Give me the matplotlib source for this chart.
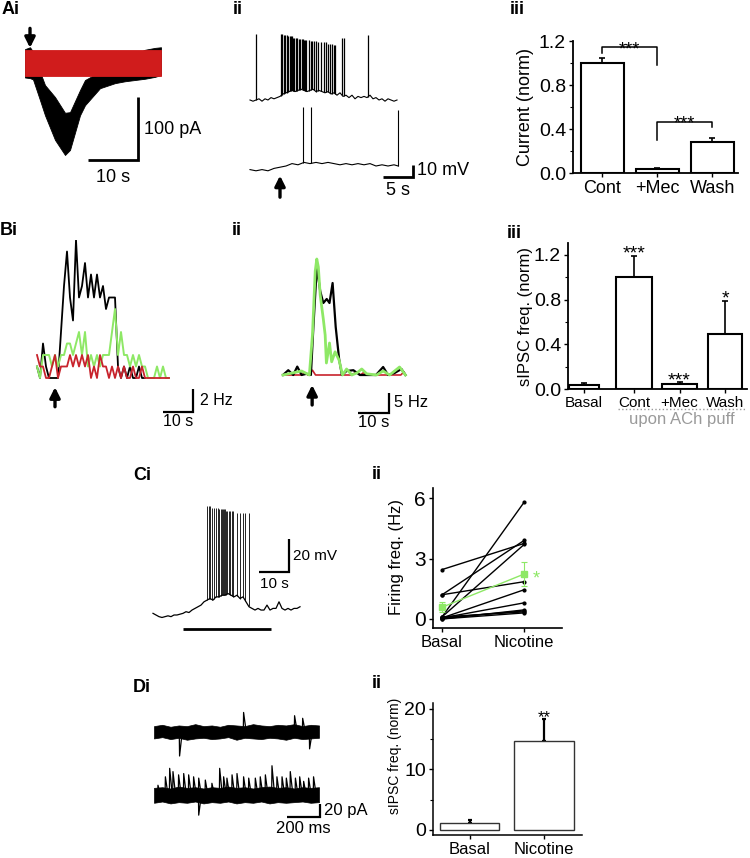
from __future__ import annotations

import matplotlib

matplotlib.use("Agg")

import matplotlib.pyplot as plt
import numpy as np
from matplotlib.ticker import FixedLocator
from matplotlib.transforms import blended_transform_factory

plt.rcParams["font.family"] = ["Liberation Sans", "DejaVu Sans"]

FIG_W, FIG_H = 750, 858

COLORS = {
    "black": "#000000",
    "red": "#d01c1c",
    "trace_red": "#c8232c",
    "green": "#8ee866",
    "gray": "#9a9a9a",
    "bar_edge": "#333333",
}

# ---- Ai: ACh-evoked current (pA) vs time (s): control band and +Mec band
AI_TIME = [0, 1, 1.6, 3, 4, 6, 8, 9, 11, 12, 15, 18, 20, 22, 24, 26, 27.2]
AI_CONTROL_UPPER = [22, 25, 18, -14, -35, -54, -79, -78, -43, -27, -14, -3, 8, 14, 21, 24, 25]
AI_CONTROL_LOWER = [-23, -24, -26, -59, -83, -122, -146, -138, -83, -67, -40, -32, -29, -27, -25, -22, -19]
AI_MEC_TIME = [0, 27.2]
AI_MEC_UPPER = [21, 21]
AI_MEC_LOWER = [-21, -21]

# ---- Aii: membrane potential (mV) vs time (s), two recordings
AII_TIME = [0, 0.5, 1, 1.5, 2, 2.5, 3, 3.5, 4, 4.5,
            5, 5.5, 6, 6.5, 7, 7.5, 8, 8.5, 9, 9.5,
            10, 10.5, 11, 11.5, 12, 12.5, 13, 13.5, 14, 14.5,
            15, 15.5, 16, 16.5, 17, 17.5, 18, 18.5, 19, 19.5,
            20, 20.5, 21, 21.5, 22, 22.5, 23, 23.5, 24, 24.5]
AII_TOP_V = [0, -1, 0, 1, -1, 1, 0, 2, 1, 2,
             3, 5, 6, 7, 8, 7, 8, 9, 8, 7,
             8, 9, 7, 8, 7, 6, 7, 5, 6, 4,
             6, 3, 4, 2, 4, 1, 3, 2, 3, 2,
             4, 1, 2, 0, 1, -1, 1, 0, -1, 0]
AII_TOP_SPIKES = [1.0, 5.1, 5.3, 5.6, 5.9, 6.1, 6.3, 6.6, 6.8, 7.0, 7.2, 7.4, 7.7,
                  7.9, 8.1, 8.3, 8.6, 8.8, 9.0, 9.2, 9.4, 9.8, 10.1, 10.4, 10.7,
                  11.0, 11.4, 11.8, 12.3, 12.7, 13.0, 13.3, 13.7, 14.0, 14.2,
                  15.3, 15.6, 19.7]
AII_TOP_PEAKS = [55, 55, 55, 54, 54, 54, 53, 53, 53, 53, 52, 52, 52,
                 52, 51, 51, 51, 51, 50, 50, 50, 50, 49, 49, 49,
                 49, 48, 48, 48, 48, 47, 47, 47, 46, 46,
                 52, 52, 54]
AII_BOTTOM_TIME = [0, 1, 2, 3, 4, 5, 6, 7, 8, 9, 10, 11, 12, 13, 14, 15, 16,
                   17, 18, 19, 20, 21, 22, 23, 24, 24.7]
AII_BOTTOM_V = [0, -1, 0, -1, 1, 2, 3, 5, 4, 6, 5, 6, 5, 6, 5, 4, 5,
                4, 5, 4, 5, 3, 4, 3, 4, 3]
AII_BOTTOM_SPIKES = [8.9, 10.2, 24.6]
AII_BOTTOM_PEAKS = [52, 52, 50]

# ---- Aiii: normalised current
AIII_GROUPS = ["Cont", "+Mec", "Wash"]
AIII_MEAN = [1.0, 0.04, 0.28]
AIII_SEM = [0.05, 0.01, 0.04]

# ---- Bi: sIPSC frequency (Hz) in 1-s bins
BI_CONT = [1, 0, 3, 1, 0, 0, 0, 0, 4, 8, 11, 7, 5, 12, 7, 8, 10, 7, 9, 7, 9, 7,
           8, 6, 7, 7, 7, 1, 0, 1, 0, 1, 0, 0, 1, 0, 0]
BI_WASH = [1, 0, 2, 2, 2, 1, 2, 1, 2, 2, 3, 3, 2, 3, 4, 2, 4, 1, 2, 1, 2, 1, 2,
           2, 2, 4, 6, 2, 4, 2, 2, 1, 2, 1, 2, 1, 1, 0, 0, 0, 1, 0, 1, 0, 0]
BI_MEC = [2, 1, 1, 0, 0, 1, 2, 0, 1, 1, 1, 2, 1, 2, 1, 2, 1, 2, 0, 1, 0, 2, 1,
          1, 0, 1, 0, 1, 0, 1, 0, 0, 1, 0, 0, 1, 0, 0, 0, 0, 0, 0, 0, 0, 0]

# ---- Bii: sIPSC frequency (Hz) vs time (s)
BII_CONT_T = [0, 1.7, 3.3, 4.6, 6.0, 7.6, 9.0, 9.8, 10.9, 12.0, 13.0, 14.1, 15.0,
              16.0, 17.0, 18.1, 19.0, 20.5, 22.7, 24.8, 27.0, 30.0, 32.3, 33.9,
              36.0, 38.2, 39.5]
BII_CONT_F = [0, 1.2, 0, 2.1, 0, 0.3, 0, 12, 27, 21, 18, 19, 18,
              23, 12, 4, 0, 1, 1.2, 0, 0, 0, 2, 0,
              0.5, 1.5, 0]
BII_WASH_T = [0, 3, 6, 8.5, 9.5, 10.4, 10.9, 11.4, 12, 13, 13.6, 14, 15, 15.7,
              16.8, 18.1, 19.2, 20.5, 22.2, 23.8, 25.4, 27, 30.2, 32.3, 34.4,
              37.6, 39.5]
BII_WASH_F = [0, 0.5, 1, 0, 10, 26, 29, 27, 20, 14, 10, 3, 8, 3.3,
              5.8, 3.7, 0, 1.5, 0, 0.5, 1.5, 0.3, 0, 1, 0,
              2, 0]
BII_MEC_T = [0, 6, 7, 8, 9.5, 10.5, 12, 22, 23.8, 25, 26, 27, 38, 39, 39.5]
BII_MEC_F = [0, 0, 0.6, 0, 1.2, 0, 0, 0, 0.8, 0, 0.6, 0, 0, 0.8, 0]

# ---- Biii: normalised sIPSC frequency upon ACh puff
BIII_GROUPS = ["Basal", "Cont", "+Mec", "Wash"]
BIII_MEAN = [0.04, 1.0, 0.045, 0.49]
BIII_SEM = [0.01, 0.19, 0.015, 0.30]
BIII_STARS = ["", "***", "***", "*"]

# ---- Ci: membrane potential (mV) during nicotine (1-s samples)
CI_TIME = list(range(50))
CI_V = [1, 0, -1, -1.5, -1, -0.5, -1, 0, 0, 0.5,
        1, 2, 1.5, 3, 4, 5, 6, 8, 9, 10,
        9, 11, 11, 12, 12, 13, 12, 11, 12, 10,
        11, 8, 5, 4, 3, 4, 3, 3, 6, 3,
        4, 4, 8, 4, 3, 4, 3, 4, 4, 5]
CI_SPIKES = [18.1, 18.6, 19.0, 19.7, 20.3, 21.0, 21.7, 22.1, 22.6, 23.0, 23.4,
             23.8, 24.1, 24.4, 24.8, 25.2, 25.7, 26.2, 26.8, 28.1, 29.0, 29.9,
             30.8, 31.9]
CI_PEAKS = [66, 66, 66, 65, 65, 65, 65, 64, 64, 64, 64,
            64, 64, 63, 63, 63, 63, 63, 63, 62, 62, 62,
            62, 62]
CI_NICOTINE = [10, 39.3]

# ---- Cii: firing frequency (Hz), paired cells
CII_CONDITIONS = ["Basal", "Nicotine"]
CII_BASAL = [2.45, 1.2, 1.2, 0.1, 0.1, 0.05, 0.05, 0.0, 0.05, 0.1, 0.0]
CII_NICOTINE = [3.75, 3.9, 1.85, 5.8, 3.7, 1.45, 0.8, 0.45, 0.4, 0.35, 0.3]
CII_MEAN = [0.58, 2.23]
CII_SEM = [0.25, 0.6]

# ---- Di: sIPSC traces (pA) vs time (ms)
DI_TIME = [0, 50, 100, 150, 200, 250, 300, 350, 400, 450, 500,
           550, 600, 650, 700, 750, 800, 850, 900, 950, 1000]
DI_BASAL_UPPER = [9, 11, 8, 10, 9, 12, 9, 10, 8, 11, 10, 9, 12, 10, 9, 11, 10, 12, 9, 11, 10]
DI_BASAL_LOWER = [-10, -8, -11, -9, -12, -10, -9, -11, -10, -8, -12, -9, -10, -11, -9,
                  -10, -12, -9, -11, -10, -9]
DI_BASAL_EVENTS = [153, 541, 850, 899, 941]
DI_BASAL_AMPS = [-37, 30, 25, 21, -26]
DI_NIC_UPPER = [11, 12, 10, 13, 11, 12, 10, 12, 11, 13, 11, 12, 10, 12, 13, 11, 12, 10, 12, 11, 12]
DI_NIC_LOWER = [-12, -10, -13, -11, -12, -10, -13, -11, -12, -10, -13, -11, -12, -10,
                -13, -11, -12, -11, -10, -12, -11]
DI_NIC_EVENTS = [22, 67, 93, 113, 147, 178, 208, 238, 269, 269, 309, 349, 396, 420,
                 440, 471, 501, 541, 572, 612, 642, 673, 713, 743, 774, 800, 824,
                 855, 881, 905, 935, 965]
DI_NIC_AMPS = [15, 28, 41, 36, 31, 33, 31, 28, 26, -31, 23, 18, 41, 28,
               26, 31, 33, 28, 26, 26, 28, 31, 45, 28, 28, 26, 36,
               26, 28, 21, 26, 28]

# ---- Dii: normalised sIPSC frequency
DII_CONDITIONS = ["Basal", "Nicotine"]
DII_MEAN = [1.1, 14.7]
DII_SEM = [0.5, 3.6]


def px_axes(fig, left, top, width, height):
    return fig.add_axes(
        [left / FIG_W, 1 - (top + height) / FIG_H, width / FIG_W, height / FIG_H]
    )


def trace_axes(fig, box, origin, scale):
    left, top, width, height = box
    x0, y0 = origin
    sx, sy = scale
    ax = px_axes(fig, left, top, width, height)
    ax.set_xlim((left - x0) / sx, (left + width - x0) / sx)
    ax.set_ylim((y0 - (top + height)) / sy, (y0 - top) / sy)
    ax.axis("off")
    return ax


def panel_label(fig, text, x, y):
    fig.text(x / FIG_W, 1 - y / FIG_H, text, fontsize=13, fontweight="bold",
             ha="left", va="center")


def scale_bar(ax, x_right, y_bottom, dx, dy, lw=1.6):
    ax.plot([x_right - dx, x_right, x_right], [y_bottom, y_bottom, y_bottom + dy],
            color="black", lw=lw, solid_capstyle="butt", solid_joinstyle="miter",
            clip_on=False)


def arrow(ax, x, y_tail, y_head):
    ax.annotate("", xy=(x, y_head), xytext=(x, y_tail), annotation_clip=False,
                arrowprops=dict(arrowstyle="-|>,head_width=0.3,head_length=0.6",
                                color="black", lw=2.4, shrinkA=0, shrinkB=0))


def style_bar_axis(ax, spine_width=1.3):
    for side in ("top", "right"):
        ax.spines[side].set_visible(False)
    for side in ("left", "bottom"):
        ax.spines[side].set_linewidth(spine_width)
    ax.tick_params(direction="out", length=3, width=1, pad=2)
    ax.tick_params(which="minor", direction="out", length=2, width=0.8)


fig = plt.figure(figsize=(FIG_W / 100, FIG_H / 100), dpi=100)

# ======== Ai
ax = trace_axes(fig, (0, 20, 230, 180), (25, 63), (5, 0.63))
ax.fill_between(AI_TIME, AI_CONTROL_LOWER, AI_CONTROL_UPPER, color="black", lw=0.6)
ax.fill_between(AI_MEC_TIME, AI_MEC_LOWER, AI_MEC_UPPER, color=COLORS["red"], lw=0.6)
arrow(ax, 1, 55, 24)
scale_bar(ax, 22.6, -154, 10, 100, lw=2)
ax.text(23.8, -106, "100 pA", fontsize=13, ha="left", va="center")
ax.text(17.6, -182, "10 s", fontsize=13, ha="center", va="center")

# ======== Aii
ax = trace_axes(fig, (240, 20, 220, 190), (250, 100), (6, 1.2))
bottom_offset = -58
ax.plot(AII_TIME, AII_TOP_V, color="black", lw=0.8)
ax.vlines(AII_TOP_SPIKES, np.interp(AII_TOP_SPIKES, AII_TIME, AII_TOP_V),
          AII_TOP_PEAKS, color="black", lw=0.9)
bottom_v = np.array(AII_BOTTOM_V) + bottom_offset
ax.plot(AII_BOTTOM_TIME, bottom_v, color="black", lw=0.8)
ax.vlines(AII_BOTTOM_SPIKES, np.interp(AII_BOTTOM_SPIKES, AII_BOTTOM_TIME, bottom_v),
          np.array(AII_BOTTOM_PEAKS) + bottom_offset, color="black", lw=0.8)
arrow(ax, 5, -81, -63)
scale_bar(ax, 27.2, -64, 5, 10, lw=2)
ax.text(27.8, -59, "10 mV", fontsize=13, ha="left", va="center")
ax.text(24.7, -75.5, "5 s", fontsize=13, ha="center", va="center")

# ======== Aiii
ax = px_axes(fig, 573, 41, 165, 132)
x = np.arange(len(AIII_GROUPS))
ax.bar(x, AIII_MEAN, width=0.78, color="white", edgecolor="black", lw=1.5, zorder=2)
ax.errorbar(x, AIII_MEAN, yerr=[np.zeros(len(x)), AIII_SEM], fmt="none",
            ecolor="black", elinewidth=1.2, capsize=2, capthick=1.2, zorder=1)
style_bar_axis(ax)
ax.set_xlim(-0.53, 2.47)
ax.set_ylim(0, 1.2)
ax.set_yticks([0, 0.4, 0.8, 1.2], ["0.0", "0.4", "0.8", "1.2"], fontsize=14)
ax.yaxis.set_minor_locator(FixedLocator([0.2, 0.6, 1.0]))
ax.set_xticks(x, AIII_GROUPS, fontsize=13)
ax.text(-0.29, 0.5, "Current (norm)", transform=ax.transAxes, rotation=90,
        fontsize=13, ha="center", va="center")
brackets = [(0, 1, 1.09, 1.145, 0.98), (1, 2, 0.30, 0.464, 0.42)]
for i, j, left_low, top, right_low in brackets:
    ax.plot([x[i], x[i], x[j], x[j]], [left_low, top, top, right_low],
            color="black", lw=1.1, clip_on=False)
    ax.annotate("***", xy=((x[i] + x[j]) / 2, top), xytext=(0, -5),
                textcoords="offset points", ha="center", va="baseline", fontsize=13,
                annotation_clip=False)

# ======== Bi
ax = trace_axes(fig, (0, 240, 230, 200), (37, 378), (3, 11.5))
ax.plot(np.arange(len(BI_CONT)), BI_CONT, color="black", lw=1.3)
ax.plot(np.arange(len(BI_WASH)), BI_WASH, color=COLORS["green"], lw=1.4)
ax.plot(np.arange(len(BI_MEC)), BI_MEC, color=COLORS["trace_red"], lw=1.3)
arrow(ax, 6, -2.5, -0.8)
scale_bar(ax, 52, -3, 10, 2, lw=1.6)
ax.text(54.3, -2.0, "2 Hz", fontsize=11.5, ha="left", va="center")
ax.text(47, -3.8, "10 s", fontsize=11.5, ha="center", va="center")

# ======== Bii
ax = trace_axes(fig, (240, 240, 210, 200), (283, 375), (3.1, 4))
ax.plot(BII_MEC_T, BII_MEC_F, color=COLORS["trace_red"], lw=1.2)
ax.plot(BII_CONT_T, BII_CONT_F, color="black", lw=1.6)
ax.plot(BII_WASH_T, BII_WASH_F, color=COLORS["green"], lw=2.0)
arrow(ax, 9.4, -7.5, -2.5)
scale_bar(ax, 34.2, -9.5, 10, 5, lw=1.6)
ax.text(35.8, -7.0, "5 Hz", fontsize=12, ha="left", va="center")
ax.text(29.2, -11.8, "10 s", fontsize=12, ha="center", va="center")

# ======== Biii
ax = px_axes(fig, 568, 243, 179, 146)
bx = [0, 1.1, 2.1, 3.1]
bw = [0.66, 0.78, 0.78, 0.76]
ax.bar(bx, BIII_MEAN, width=bw, color="white", edgecolor="black", lw=1.5, zorder=2)
ax.errorbar(bx, BIII_MEAN, yerr=[np.zeros(len(bx)), BIII_SEM], fmt="none",
            ecolor="black", elinewidth=1.2, capsize=2, capthick=1.2, zorder=1)
style_bar_axis(ax)
ax.set_xlim(-0.35, 3.58)
ax.set_ylim(0, 1.307)
ax.set_yticks([0, 0.4, 0.8, 1.2], ["0.0", "0.4", "0.8", "1.2"], fontsize=14)
ax.yaxis.set_minor_locator(FixedLocator([0.2, 0.6, 1.0]))
ax.set_xticks(bx, BIII_GROUPS, fontsize=11)
ax.text(-0.24, 0.5, "sIPSC freq. (norm)", transform=ax.transAxes, rotation=90,
        fontsize=12, ha="center", va="center")
for xpos, mean, sem, star in zip(bx, BIII_MEAN, BIII_SEM, BIII_STARS):
    if star:
        ax.annotate(star, xy=(xpos, mean + sem), xytext=(0, -2),
                    textcoords="offset points", ha="center", va="baseline",
                    fontsize=14, annotation_clip=False)
trans = blended_transform_factory(ax.transData, ax.transAxes)
ax.plot([0.75, 3.54], [-0.139, -0.139], transform=trans, ls=":", lw=1,
        color=COLORS["gray"], clip_on=False)
ax.text(2.15, -0.212, "upon ACh puff", transform=trans, fontsize=12,
        color=COLORS["gray"], ha="center", va="center")

# ======== Ci
ax = trace_axes(fig, (140, 490, 200, 160), (153, 615), (3, 1.65))
ax.plot(CI_TIME, CI_V, color="black", lw=0.9)
ax.vlines(CI_SPIKES, np.interp(CI_SPIKES, CI_TIME, CI_V), CI_PEAKS,
          color="black", lw=0.6)
ax.plot(CI_NICOTINE, [-8.5, -8.5], color="black", lw=2, solid_capstyle="butt")
scale_bar(ax, 45.3, 26, 10, 20, lw=1.6)
ax.text(46.7, 36, "20 mV", fontsize=11, ha="left", va="center")
ax.text(40.3, 18.5, "10 s", fontsize=11, ha="center", va="center")

# ======== Cii
ax = px_axes(fig, 433, 488, 129, 140)
cx = np.arange(len(CII_CONDITIONS))
for basal, nicotine in zip(CII_BASAL, CII_NICOTINE):
    ax.plot(cx, [basal, nicotine], color="black", lw=1, marker="o", markersize=2)
ax.errorbar(cx, CII_MEAN, yerr=CII_SEM, color=COLORS["green"], lw=1, marker="s",
            markersize=4, capsize=2, elinewidth=0.8, capthick=0.8, zorder=3)
ax.annotate("*", xy=(cx[1], CII_MEAN[1]), xytext=(9, -7), textcoords="offset points",
            ha="center", va="baseline", fontsize=13, color=COLORS["green"])
style_bar_axis(ax, spine_width=1.2)
ax.set_xlim(-0.11, 1.46)
ax.set_ylim(-0.45, 6.5)
ax.set_yticks([0, 3, 6], ["0", "3", "6"], fontsize=15)
ax.set_xticks(cx, CII_CONDITIONS, fontsize=12)
ax.text(-0.28, 0.51, "Firing freq. (Hz)", transform=ax.transAxes, rotation=90,
        fontsize=12, ha="center", va="center")

# ======== Di
ax = trace_axes(fig, (140, 690, 230, 160), (154, 795), (0.165, 0.65))
top_offset = 97
ax.fill_between(DI_TIME, np.array(DI_BASAL_LOWER) + top_offset,
                np.array(DI_BASAL_UPPER) + top_offset, color="black", lw=0.5)
for t, amp in zip(DI_BASAL_EVENTS, DI_BASAL_AMPS):
    ax.plot([t, t + 2, t + 18], [top_offset, top_offset + amp, top_offset],
            color="black", lw=0.9)
ax.fill_between(DI_TIME, DI_NIC_LOWER, DI_NIC_UPPER, color="black", lw=0.5)
for t, amp in zip(DI_NIC_EVENTS, DI_NIC_AMPS):
    ax.plot([t, t + 2, t + 18], [0, amp, 0], color="black", lw=0.9)
scale_bar(ax, 1006, -33.8, 200, 20, lw=1.6)
ax.text(1030, -24, "20 pA", fontsize=12, ha="left", va="center")
ax.text(906, -51, "200 ms", fontsize=12, ha="center", va="center")

# ======== Dii
ax = px_axes(fig, 433, 703, 149, 132)
dx = np.arange(len(DII_CONDITIONS))
ax.bar(dx, DII_MEAN, width=0.8, color="white", edgecolor=COLORS["bar_edge"], lw=1,
       zorder=2)
ax.errorbar(dx, DII_MEAN, yerr=[np.zeros(len(dx)), DII_SEM], fmt="none",
            ecolor="black", elinewidth=1.6, capsize=1.5, capthick=1.6, zorder=1)
ax.annotate("**", xy=(dx[1], DII_MEAN[1] + DII_SEM[1]), xytext=(0, -2),
            textcoords="offset points", ha="center", va="baseline", fontsize=12)
style_bar_axis(ax, spine_width=1.1)
ax.set_xlim(-0.49, 1.51)
ax.set_ylim(-0.83, 20.99)
ax.set_yticks([0, 10, 20], ["0", "10", "20"], fontsize=14)
ax.yaxis.set_minor_locator(FixedLocator([5, 15]))
ax.set_xticks(dx, DII_CONDITIONS, fontsize=12)
ax.text(-0.255, 0.6, "sIPSC freq. (norm)", transform=ax.transAxes, rotation=90,
        fontsize=10, ha="center", va="center")

# ======== panel letters
panel_label(fig, "Ai", 2, 10)
panel_label(fig, "ii", 233, 10)
panel_label(fig, "iii", 510, 10)
panel_label(fig, "Bi", 0, 231)
panel_label(fig, "ii", 232, 231)
panel_label(fig, "iii", 507, 233)
panel_label(fig, "Ci", 133, 476)
panel_label(fig, "ii", 372, 475)
panel_label(fig, "Di", 133, 688)
panel_label(fig, "ii", 372, 683)

fig.savefig("out.png", dpi=100, facecolor="white")
